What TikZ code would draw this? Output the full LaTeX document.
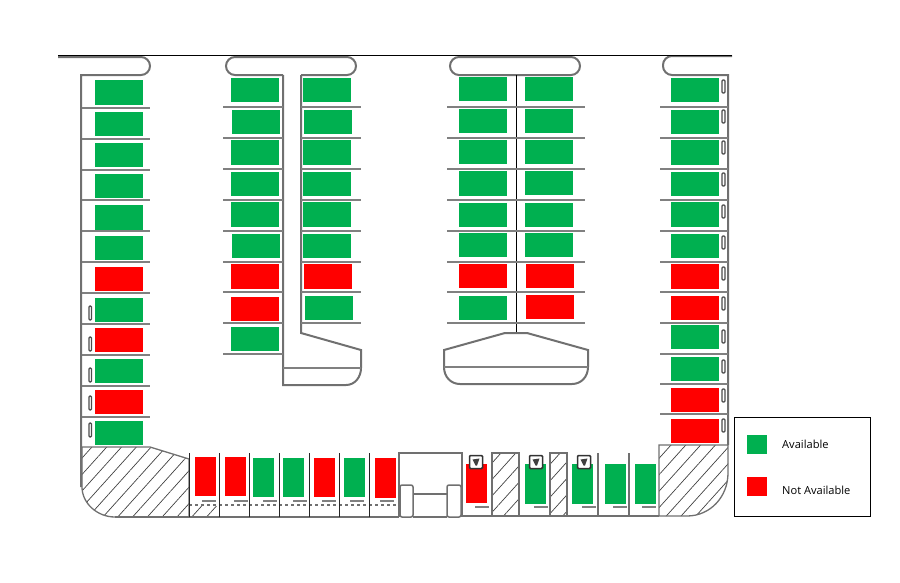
\documentclass[tikz,border=0pt]{standalone}
\usepackage{fontspec}
\setmainfont{Open Sans}
\usetikzlibrary{patterns.meta}
\definecolor{availgreen}{HTML}{00B050}
\definecolor{notred}{HTML}{FF0000}
\definecolor{wallgray}{HTML}{707070}
\tikzset{
    bay/.style={fill=#1, inner sep=0pt, minimum width=48pt, minimum height=24.5pt},
    lotbay/.style={fill=#1, inner sep=0pt, minimum width=21pt, minimum height=39.5pt},
    keybox/.style={fill=#1, inner sep=0pt, minimum size=19.5pt},
    wall/.style={draw=wallgray, line width=2pt},
    thinwall/.style={draw=wallgray, line width=1.2pt},
    stall/.style={draw=gray, line width=1.4pt},
    stopmark/.style={draw=gray, line width=2pt},
    slot/.style={draw=black!70, fill=white, line width=1.1pt, rounded corners=1pt},
    hatched/.style={draw=wallgray, line width=1.3pt, pattern={Lines[angle=48,distance=11pt,line width=.7pt]}, pattern color=black!75},
    legendtext/.style={anchor=west, inner sep=0pt, font=\fontsize{11.1}{13}\selectfont},
}
\begin{document}
\begin{tikzpicture}[x=1pt,y=-1pt]
    \useasboundingbox (0,0) rectangle (900,582);
    \draw[wall] (81,487) -- (81,75) [rounded corners=9pt] -- (150,75) -- (150,57) [sharp corners] -- (58,57);
    \draw[wall, rounded corners=9pt] (283,75) -- (226,75) -- (226,57) -- (356,57) -- (356,75) -- (301,75);
    \draw[wall, rounded corners=9pt] (516,75) -- (450,75) -- (450,57) -- (580,57) -- (580,75) -- (516,75);
    \draw[wall] (728,445) -- (728,75) [rounded corners=9pt] -- (663,75) -- (663,56) [sharp corners] -- (732,56);
    \draw[black, line width=1pt] (58,55) -- (732,55);
    \draw[wall] (283,75) -- (283,385) -- (346,385) .. controls (355,385) and (361,377) .. (361,368) -- (361,350) -- (301,333) -- (301,75);
    \draw[stall] (283,368) -- (361,368);
    \draw[black, line width=.8pt] (516,75) -- (516,333);
    \draw[wall] (505,333) -- (527,333) -- (588,350) -- (588,367) .. controls (588,377) and (581,384) .. (572,384) -- (460,384) .. controls (451,384) and (444,377) .. (444,367) -- (444,350) -- cycle;
    \draw[stall] (444,367) -- (588,367);
    \foreach \y in {108,139,170,200,231,262,293,324,355,386,417}
        \draw[stall] (82,\y) -- (150,\y);
    \foreach \y in {107,138,169,200,231,262,292,323,354}
        \draw[stall] (223,\y) -- (283,\y);
    \foreach \y in {107,138,169,200,231,262,292,323}
        \draw[stall] (301,\y) -- (361,\y);
    \foreach \y in {107,138,169,200,231,262,292,323}
        \draw[stall] (447,\y) -- (585,\y);
    \foreach \y in {107,138,169,200,231,262,292,323,354,384,414}
        \draw[stall] (660,\y) -- (728,\y);
    \foreach \y/\c [count=\i] in {92.5/availgreen,124/availgreen,155/availgreen,186/availgreen,217.5/availgreen,248/availgreen,279/notred,310/availgreen,340/notred,371/availgreen,402/notred,433/availgreen}
        \node[bay=\c] (a\i) at (119,\y) {};
    \foreach \x/\y/\c [count=\i] in {255/90/availgreen,255.5/122/availgreen,255/152.5/availgreen,255/184/availgreen,255/214.5/availgreen,255.5/246/availgreen,255/276.5/notred,255/309/notred,255/339/availgreen}
        \node[bay=\c] (b\i) at (\x,\y) {};
    \foreach \x/\y/\c [count=\i] in {327/90/availgreen,327.5/122/availgreen,327/152.5/availgreen,327/184/availgreen,327/214.5/availgreen,327/246/availgreen,328/276.5/notred,328.5/308/availgreen}
        \node[bay=\c] (c\i) at (\x,\y) {};
    \foreach \y/\c [count=\i] in {89/availgreen,121/availgreen,152/availgreen,183.5/availgreen,215/availgreen,245/availgreen,276/notred,308/availgreen}
        \node[bay=\c] (d\i) at (482.5,\y) {};
    \foreach \x/\y/\c [count=\i] in {548.5/89/availgreen,549/121/availgreen,549/152/availgreen,548.5/183/availgreen,549/215/availgreen,549/245/availgreen,549.5/276/notred,550/307/notred}
        \node[bay=\c] (e\i) at (\x,\y) {};
    \foreach \y/\c [count=\i] in {90/availgreen,122/availgreen,152.5/availgreen,184/availgreen,214.5/availgreen,246/availgreen,276.5/notred,308/notred,337/availgreen,369/availgreen,400/notred,431/notred}
        \node[bay=\c] (f\i) at (695,\y) {};
    \foreach \y in {80,110,141,173,205,236,267,297,330,360,389,419}
        \draw[slot] (722,\y) rectangle (725,\y+13);
    \foreach \y in {306,337,368,396,423}
        \draw[slot] (89,\y) rectangle (91.5,\y+14);
    \draw[hatched] (82,447) -- (150,447) -- (189,459) -- (189,517) -- (115,517) .. controls (97,517) and (82,503) .. (82,487) -- cycle;
    \draw[hatched] (659,445) -- (728,445) -- (728,473) .. controls (728,497) and (710,516) .. (687,516) -- (659,516) -- cycle;
    \draw[hatched] (492,453) rectangle (519,516);
    \draw[hatched] (550,453) rectangle (567,516);
    \fill[white] (190,506) rectangle (400,516);
    \draw[hatched, draw=none] (190,506) rectangle (218,516);
    \draw[wall] (115,517) -- (399,517);
    \draw[thinwall] (462,516) -- (659,516);
    \draw[thinwall, dashed] (189,505) -- (400,505);
    \foreach \x in {189,219,249,279,309,339,369}
        \draw[black!85, line width=.9pt] (\x,453) -- (\x,517);
    \foreach \x in {598,629}
        \draw[thinwall] (\x,453) -- (\x,516);
    \foreach \x/\y/\c [count=\i] in {205.5/476.5/notred,235.5/476.5/notred,263.5/477.5/availgreen,293.5/477.5/availgreen,324.5/477.5/notred,354.5/477.5/availgreen,385.5/478/notred,476.5/483.5/notred,535/484/availgreen,582.5/484/availgreen,615.5/484/availgreen,645.5/484/availgreen}
        \node[lotbay=\c] (g\i) at (\x,\y) {};
    \foreach \x in {202,234,263,293,322,350,380,475,534,582,613,642}
        \draw[stopmark] (\x,\ifnum\x<400 501\else 507\fi) -- (\x+13.5,\ifnum\x<400 501\else 507\fi);
    \draw[thinwall] (399,517) -- (399,453) -- (462,453) -- (462,517);
    \draw[thinwall, line width=1.5pt, rounded corners=2pt] (400,517) -- (400,485) -- (413,485) -- (413,517) -- cycle;
    \draw[thinwall, line width=1.5pt, rounded corners=2pt] (447,517) -- (447,485) -- (461,485) -- (461,517) -- cycle;
    \draw[thinwall] (413,494) -- (447,494);
    \draw[thinwall] (413,517) -- (447,517);
    \foreach \x [count=\i] in {476,536,584} {
        \node[draw=black!80, fill=white, line width=1.5pt, rounded corners=1pt, minimum size=13pt, inner sep=0pt] (k\i) at (\x,462) {};
        \fill[black!75] (\x-3.5,459.5) -- (\x+3.5,458.5) -- (\x+1,465.5) -- (\x-.5,465.5) -- cycle;
    }
    \node[draw=black, line width=1pt, fill=white, inner sep=0pt, minimum width=136pt, minimum height=99pt] (legend) at (802,466.5) {};
    \node[keybox=availgreen] (availkey) at (757,444.5) {};
    \node[keybox=notred] (notkey) at (757,486.5) {};
    \node[legendtext] (availlabel) at (782,444) {Available};
    \node[legendtext] (notlabel) at (782,490) {Not Available};
\end{tikzpicture}
\end{document}
